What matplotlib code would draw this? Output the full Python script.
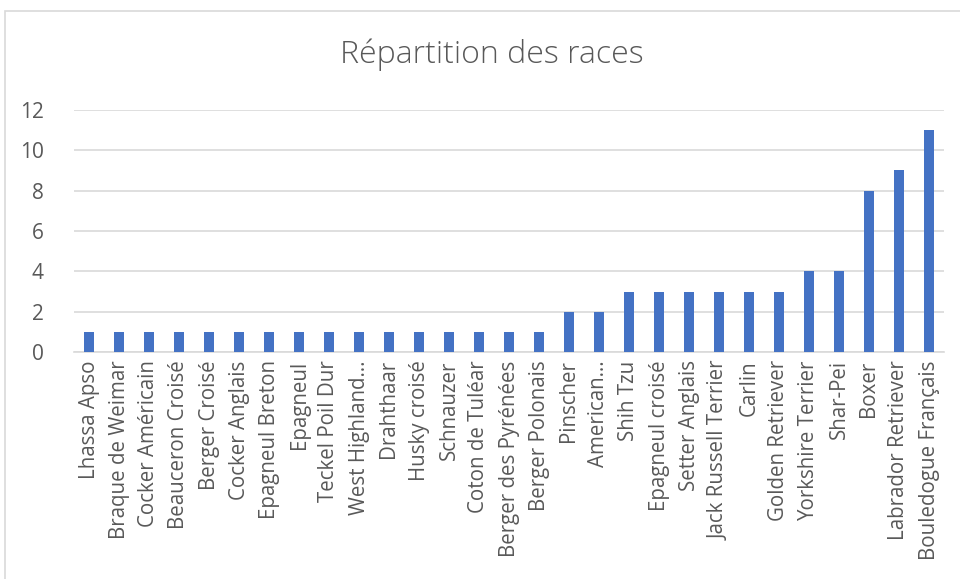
import matplotlib.pyplot as plt
from matplotlib.patches import Rectangle

races = ["Lhassa Apso", "Braque de Weimar", "Cocker Américain", "Beauceron Croisé",
         "Berger Croisé", "Cocker Anglais", "Epagneul Breton", "Epagneul",
         "Teckel Poil Dur", "West Highland…", "Drahthaar", "Husky croisé",
         "Schnauzer", "Coton de Tuléar", "Berger des Pyrénées", "Berger Polonais",
         "Pinscher", "American…", "Shih Tzu", "Epagneul croisé", "Setter Anglais",
         "Jack Russell Terrier", "Carlin", "Golden Retriever", "Yorkshire Terrier",
         "Shar-Pei", "Boxer", "Labrador Retriever", "Bouledogue Français"]
effectifs = [1, 1, 1, 1, 1, 1, 1, 1, 1, 1, 1, 1, 1, 1, 1, 1,
             2, 2, 3, 3, 3, 3, 3, 3, 4, 4, 8, 9, 11]
yticks = [0, 2, 4, 6, 8, 10, 12]

plt.rcParams['font.family'] = ['Open Sans', 'DejaVu Sans']
gris = '#595959'

fig = plt.figure(figsize=(9.6, 5.79), dpi=100)
# cadre du graphique
fig.patches.append(Rectangle((5 / 960, -0.1), 1.1, 1 - 11 / 579 + 0.1, transform=fig.transFigure,
                             fill=False, edgecolor='#d9d9d9', linewidth=1.2))

ax = fig.add_axes([74 / 960, 1 - 352 / 579, 870 / 960, 242 / 579])
x = range(len(races))
ax.bar(x, effectifs, width=0.34, color='#4472C4', zorder=3)
ax.set_xlim(-0.5, len(races) - 0.5)
ax.set_ylim(0, 12)
ax.set_yticks(yticks)
ax.set_xticks(list(x))
ax.set_xticklabels(races, rotation=90, fontsize=14.8, color=gris)
ax.tick_params(axis='y', labelsize=15, labelcolor=gris, length=0, pad=22)
ax.tick_params(axis='x', length=0, pad=6)
ax.grid(axis='y', color='#d9d9d9', linewidth=1.2, zorder=0)
for s in ['top', 'right', 'left']:
    ax.spines[s].set_visible(False)
ax.spines['bottom'].set_color('#d9d9d9')
ax.spines['bottom'].set_linewidth(1.2)

fig.text(492 / 960, 1 - 55 / 579, "Répartition des races", ha='center', va='center',
         fontsize=23, color=gris, fontweight='light')

fig.savefig("out.png", dpi=100)
